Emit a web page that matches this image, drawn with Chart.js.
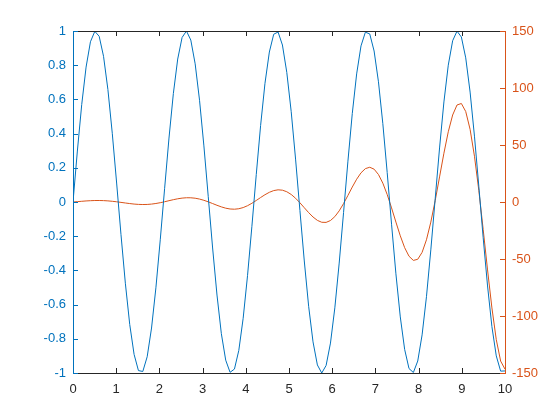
<!DOCTYPE html>
<html>
<head>
<meta charset="utf-8">
<script src="https://cdn.jsdelivr.net/npm/chart.js@4"></script>
<style>
  html, body { margin: 0; padding: 0; background: #fff; }
  #wrap { width: 560px; height: 420px; }
</style>
</head>
<body>
<div id="wrap"><canvas id="chart" width="560" height="420"></canvas></div>
<script>
// sample positions along x (0..10, 100 points)
const xs = [0, 0.101, 0.202, 0.303, 0.404, 0.505, 0.606, 0.707, 0.808, 0.909,
  1.010, 1.111, 1.212, 1.313, 1.414, 1.515, 1.616, 1.717, 1.818, 1.919,
  2.020, 2.121, 2.222, 2.323, 2.424, 2.525, 2.626, 2.727, 2.828, 2.929,
  3.030, 3.131, 3.232, 3.333, 3.434, 3.535, 3.636, 3.737, 3.838, 3.939,
  4.040, 4.141, 4.242, 4.343, 4.444, 4.545, 4.646, 4.747, 4.848, 4.949,
  5.051, 5.152, 5.253, 5.354, 5.455, 5.556, 5.657, 5.758, 5.859, 5.960,
  6.061, 6.162, 6.263, 6.364, 6.465, 6.566, 6.667, 6.768, 6.869, 6.970,
  7.071, 7.172, 7.273, 7.374, 7.475, 7.576, 7.677, 7.778, 7.879, 7.980,
  8.081, 8.182, 8.283, 8.384, 8.485, 8.586, 8.687, 8.788, 8.889, 8.990,
  9.091, 9.192, 9.293, 9.394, 9.495, 9.596, 9.697, 9.798, 9.899, 10];

// left axis series (blue)
const leftVals = [0, 0.298, 0.570, 0.789, 0.937, 0.998, 0.969, 0.852, 0.658, 0.402,
  0.111, -0.191, -0.475, -0.716, -0.891, -0.986, -0.991, -0.905, -0.737, -0.502,
  -0.221, 0.080, 0.374, 0.634, 0.836, 0.962, 1.000, 0.947, 0.808, 0.595,
  0.328, 0.031, -0.269, -0.544, -0.770, -0.925, -0.996, -0.977, -0.868, -0.680,
  -0.431, -0.142, 0.160, 0.448, 0.694, 0.877, 0.981, 0.994, 0.918, 0.758,
  0.528, 0.251, -0.050, -0.345, -0.610, -0.818, -0.953, -1.000, -0.956, -0.825,
  -0.619, -0.357, -0.062, 0.239, 0.518, 0.749, 0.913, 0.993, 0.983, 0.883,
  0.703, 0.458, 0.172, -0.130, -0.420, -0.672, -0.862, -0.974, -0.997, -0.930,
  -0.777, -0.554, -0.280, 0.019, 0.316, 0.585, 0.800, 0.943, 0.999, 0.965,
  0.843, 0.643, 0.385, 0.092, -0.209, -0.491, -0.729, -0.900, -0.989, -0.988];

// right axis series (orange)
const rightVals = [0, 0.31, 0.63, 0.92, 1.15, 1.29, 1.31, 1.21, 0.98, 0.63,
  0.18, -0.33, -0.87, -1.38, -1.81, -2.10, -2.22, -2.14, -1.83, -1.31,
  -0.61, 0.23, 1.14, 2.03, 2.81, 3.40, 3.72, 3.70, 3.32, 2.57,
  1.49, 0.15, -1.35, -2.88, -4.29, -5.42, -6.14, -6.33, -5.92, -4.88,
  -3.25, -1.12, 1.34, 3.93, 6.40, 8.51, 10.01, 10.68, 10.37, 9.00,
  6.60, 3.29, -0.69, -5.02, -9.32, -13.16, -16.12, -17.79, -17.90, -16.25,
  -12.82, -7.77, -1.41, 5.76, 13.12, 19.97, 25.59, 29.28, 30.48, 28.80,
  24.10, 16.53, 6.53, -5.18, -17.62, -29.66, -40.05, -47.58, -51.24, -50.24,
  -44.17, -33.13, -17.63, 1.24, 22.01, 42.81, 61.60, 76.31, 85.09, 86.41,
  79.36, 63.72, 40.15, 10.13, -24.09, -59.57, -92.93, -120.70, -139.52, -146.63];

const xTicks = [0, 1, 2, 3, 4, 5, 6, 7, 8, 9, 10];
const leftTicks = [-1, -0.8, -0.6, -0.4, -0.2, 0, 0.2, 0.4, 0.6, 0.8, 1];
const rightTicks = [-150, -100, -50, 0, 50, 100, 150];

const BLUE = '#0072BD';
const ORANGE = '#D95319';
const DARK = '#262626';

// frame + inward tick marks, MATLAB style
const axesFrame = {
  id: 'axesFrame',
  afterDraw(chart) {
    const c = chart.ctx, a = chart.chartArea;
    const sx = chart.scales.x, yl = chart.scales.yL, yr = chart.scales.yR;
    const tl = 5;
    c.save();
    c.lineWidth = 1;
    c.strokeStyle = DARK;
    c.beginPath();
    c.moveTo(a.left, a.bottom + 0.5); c.lineTo(a.right, a.bottom + 0.5);
    c.moveTo(a.left, a.top + 0.5); c.lineTo(a.right, a.top + 0.5);
    xTicks.forEach(v => {
      const px = Math.round(sx.getPixelForValue(v)) + 0.5;
      c.moveTo(px, a.bottom); c.lineTo(px, a.bottom - tl);
      c.moveTo(px, a.top); c.lineTo(px, a.top + tl);
    });
    c.stroke();
    c.strokeStyle = BLUE;
    c.beginPath();
    c.moveTo(a.left + 0.5, a.top); c.lineTo(a.left + 0.5, a.bottom + 1);
    leftTicks.forEach(v => {
      const py = Math.round(yl.getPixelForValue(v)) + 0.5;
      c.moveTo(a.left, py); c.lineTo(a.left + tl, py);
    });
    c.stroke();
    c.strokeStyle = ORANGE;
    c.beginPath();
    c.moveTo(a.right + 0.5, a.top); c.lineTo(a.right + 0.5, a.bottom + 1);
    rightTicks.forEach(v => {
      const py = Math.round(yr.getPixelForValue(v)) + 0.5;
      c.moveTo(a.right, py); c.lineTo(a.right - tl, py);
    });
    c.stroke();
    c.restore();
  }
};

const font = { family: '"Liberation Sans", Arial, sans-serif', size: 13 };

new Chart(document.getElementById('chart').getContext('2d'), {
  type: 'line',
  data: {
    datasets: [{
      data: xs.map((x, i) => ({ x: x, y: leftVals[i] })),
      yAxisID: 'yL',
      borderColor: BLUE,
      borderWidth: 1,
      pointRadius: 0,
      tension: 0,
      fill: false
    }, {
      data: xs.map((x, i) => ({ x: x, y: rightVals[i] })),
      yAxisID: 'yR',
      borderColor: ORANGE,
      borderWidth: 1,
      pointRadius: 0,
      tension: 0,
      fill: false
    }]
  },
  options: {
    responsive: false,
    animation: false,
    layout: { padding: { top: 31, left: 0, right: 0, bottom: 0 } },
    plugins: { legend: { display: false }, tooltip: { enabled: false } },
    scales: {
      x: {
        type: 'linear', min: 0, max: 10,
        afterFit(s) { s.height = 47; },
        afterBuildTicks(s) { s.ticks = xTicks.map(v => ({ value: v })); },
        grid: { display: false, drawTicks: false },
        border: { display: false },
        ticks: { color: DARK, font: font, padding: 9, maxRotation: 0 }
      },
      yL: {
        type: 'linear', position: 'left', min: -1, max: 1,
        afterFit(s) { s.width = 73; },
        afterBuildTicks(s) { s.ticks = leftTicks.map(v => ({ value: v })); },
        grid: { display: false, drawTicks: false },
        border: { display: false },
        ticks: { color: BLUE, font: font, padding: 7, callback: v => String(Number(v.toFixed(1))) }
      },
      yR: {
        type: 'linear', position: 'right', min: -150, max: 150,
        afterFit(s) { s.width = 55; },
        afterBuildTicks(s) { s.ticks = rightTicks.map(v => ({ value: v })); },
        grid: { display: false, drawTicks: false },
        border: { display: false },
        ticks: { color: ORANGE, font: font, padding: 7 }
      }
    }
  },
  plugins: [axesFrame]
});
</script>
</body>
</html>
